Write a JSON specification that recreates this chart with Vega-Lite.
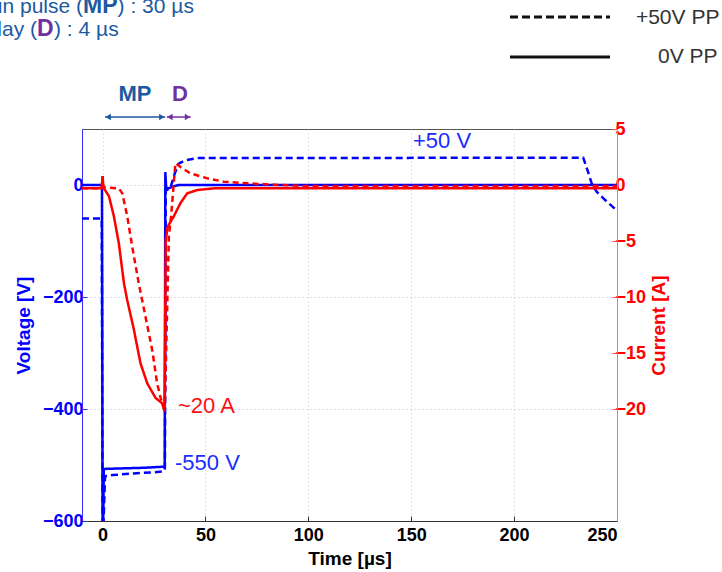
{
  "$schema": "https://vega.github.io/schema/vega-lite/v6.json",
  "width": 535,
  "height": 392,
  "autosize": {"type": "none"},
  "padding": {"left": 82, "top": 129, "right": 105, "bottom": 51},
  "background": "white",
  "config": {
    "view": {"stroke": "#555555", "strokeWidth": 1},
    "font": "Liberation Sans",
    "axis": {
      "labelFont": "Liberation Sans",
      "labelFontSize": 18,
      "labelFontWeight": "bold",
      "titleFont": "Liberation Sans",
      "titleFontSize": 19,
      "titleFontWeight": "bold"
    }
  },
  "datasets": {
    "volt": [
      {"t": -10, "v": 0, "s": "0V PP"}, {"t": -0.3, "v": 0, "s": "0V PP"}, {"t": 0, "v": -600, "s": "0V PP"},
      {"t": 0.3, "v": -600, "s": "0V PP"}, {"t": 0.6, "v": -507, "s": "0V PP"}, {"t": 10, "v": -506, "s": "0V PP"},
      {"t": 20, "v": -505, "s": "0V PP"}, {"t": 29.9, "v": -503, "s": "0V PP"}, {"t": 30.2, "v": -503, "s": "0V PP"},
      {"t": 30.5, "v": 23, "s": "0V PP"}, {"t": 30.9, "v": -5, "s": "0V PP"}, {"t": 32, "v": -6, "s": "0V PP"},
      {"t": 34, "v": -3, "s": "0V PP"}, {"t": 37, "v": 0, "s": "0V PP"}, {"t": 250, "v": 0, "s": "0V PP"},
      {"t": -10, "v": -60, "s": "+50V PP"}, {"t": -0.4, "v": -60, "s": "+50V PP"}, {"t": 0, "v": -600, "s": "+50V PP"},
      {"t": 0.5, "v": -600, "s": "+50V PP"}, {"t": 1.2, "v": -520, "s": "+50V PP"}, {"t": 5, "v": -518, "s": "+50V PP"},
      {"t": 15, "v": -515, "s": "+50V PP"}, {"t": 25, "v": -513, "s": "+50V PP"}, {"t": 29.9, "v": -511, "s": "+50V PP"},
      {"t": 30.3, "v": -505, "s": "+50V PP"}, {"t": 30.7, "v": -10, "s": "+50V PP"}, {"t": 33, "v": -5, "s": "+50V PP"},
      {"t": 35, "v": 20, "s": "+50V PP"}, {"t": 37, "v": 38, "s": "+50V PP"}, {"t": 40, "v": 44, "s": "+50V PP"},
      {"t": 46, "v": 48, "s": "+50V PP"}, {"t": 233.6, "v": 48.8, "s": "+50V PP"}, {"t": 235.6, "v": 27, "s": "+50V PP"},
      {"t": 237.7, "v": 3, "s": "+50V PP"}, {"t": 240.1, "v": -12, "s": "+50V PP"}, {"t": 243.4, "v": -24, "s": "+50V PP"},
      {"t": 248.2, "v": -40, "s": "+50V PP"}, {"t": 250, "v": -45, "s": "+50V PP"}
    ],
    "curr": [
      {"t": -10, "i": -0.3, "s": "0V PP"}, {"t": -0.4, "i": -0.3, "s": "0V PP"}, {"t": 0, "i": 0.8, "s": "0V PP"},
      {"t": 0.4, "i": -0.2, "s": "0V PP"}, {"t": 0.65, "i": -0.3, "s": "0V PP"}, {"t": 3.1, "i": -1.0, "s": "0V PP"},
      {"t": 5.5, "i": -2.8, "s": "0V PP"}, {"t": 7.9, "i": -5.2, "s": "0V PP"}, {"t": 10.4, "i": -8.8, "s": "0V PP"},
      {"t": 12, "i": -10.3, "s": "0V PP"}, {"t": 15.2, "i": -12.9, "s": "0V PP"}, {"t": 18.4, "i": -15.9, "s": "0V PP"},
      {"t": 21.7, "i": -17.7, "s": "0V PP"}, {"t": 25.7, "i": -19, "s": "0V PP"}, {"t": 29, "i": -19.5, "s": "0V PP"},
      {"t": 30.1, "i": -20.2, "s": "0V PP"}, {"t": 30.7, "i": -4.9, "s": "0V PP"}, {"t": 31.7, "i": -3.7, "s": "0V PP"},
      {"t": 34.6, "i": -2.8, "s": "0V PP"}, {"t": 37.9, "i": -1.6, "s": "0V PP"}, {"t": 41.1, "i": -0.75, "s": "0V PP"},
      {"t": 46, "i": -0.45, "s": "0V PP"}, {"t": 54, "i": -0.3, "s": "0V PP"}, {"t": 250, "i": -0.3, "s": "0V PP"},
      {"t": -10, "i": -0.3, "s": "+50V PP"}, {"t": -0.4, "i": -0.3, "s": "+50V PP"}, {"t": 0, "i": 0.8, "s": "+50V PP"},
      {"t": 0.4, "i": -0.2, "s": "+50V PP"}, {"t": 7.9, "i": -0.3, "s": "+50V PP"}, {"t": 9.6, "i": -0.75, "s": "+50V PP"},
      {"t": 12, "i": -2.8, "s": "+50V PP"}, {"t": 14.4, "i": -5.5, "s": "+50V PP"}, {"t": 17.6, "i": -8.8, "s": "+50V PP"},
      {"t": 20.9, "i": -11.8, "s": "+50V PP"}, {"t": 24.1, "i": -14.7, "s": "+50V PP"}, {"t": 26.5, "i": -17.7, "s": "+50V PP"},
      {"t": 28.2, "i": -19, "s": "+50V PP"}, {"t": 29.8, "i": -19.9, "s": "+50V PP"}, {"t": 30.3, "i": -19.5, "s": "+50V PP"},
      {"t": 32.2, "i": -4.6, "s": "+50V PP"}, {"t": 33.3, "i": -2.8, "s": "+50V PP"}, {"t": 34.6, "i": 0.15, "s": "+50V PP"},
      {"t": 35.4, "i": 1.94, "s": "+50V PP"}, {"t": 37.9, "i": 1.6, "s": "+50V PP"}, {"t": 42.7, "i": 1.04, "s": "+50V PP"},
      {"t": 50.8, "i": 0.6, "s": "+50V PP"}, {"t": 58.9, "i": 0.3, "s": "+50V PP"}, {"t": 70.2, "i": 0.15, "s": "+50V PP"},
      {"t": 86.4, "i": 0, "s": "+50V PP"}, {"t": 100, "i": -0.1, "s": "+50V PP"}, {"t": 250, "i": -0.1, "s": "+50V PP"}
    ]
  },
  "layer": [
    {
      "layer": [
        {
          "data": {"name": "volt"},
          "mark": {"type": "line", "strokeWidth": 2.5, "color": "#0000ff", "clip": true},
          "encoding": {
            "x": {
              "field": "t", "type": "quantitative",
              "scale": {"domain": [-10, 250], "nice": false, "zero": false},
              "axis": {
                "title": "Time [µs]", "values": [0, 50, 100, 150, 200, 250],
                "domainColor": "#333333", "tickColor": "#333333", "tickSize": -5,
                "labelColor": "#000000", "titleColor": "#000000",
                "labelPadding": 10, "titlePadding": 5,
                "grid": true, "gridColor": "#c4c4c4", "gridDash": [1, 3]
              }
            },
            "y": {
              "field": "v", "type": "quantitative",
              "scale": {"domain": [-600, 100], "nice": false, "zero": false},
              "axis": {
                "title": "Voltage [V]", "orient": "left", "values": [-600, -400, -200, 0],
                "domainColor": "#3030ff", "tickColor": "#3030ff", "tickSize": -5,
                "labelColor": "#0000ff", "titleColor": "#0000ff",
                "labelPadding": 4, "titlePadding": 9,
                "grid": true, "gridColor": "#b4b8e0", "gridDash": [1, 3]
              }
            },
            "strokeDash": {
              "field": "s", "type": "nominal",
              "scale": {"domain": ["0V PP", "+50V PP"], "range": [[1, 0], [7, 4]]},
              "legend": null
            }
          }
        },
        {
          "data": {"values": [
            {"t": 198.0, "t2": 246.6, "v": 300}
          ]},
          "mark": {"type": "rule", "color": "#111111", "strokeWidth": 3, "strokeDash": [8, 4]},
          "encoding": {
            "x": {"field": "t", "type": "quantitative"},
            "x2": {"field": "t2"},
            "y": {"field": "v", "type": "quantitative"}
          }
        },
        {
          "data": {"values": [
            {"t": 198.0, "t2": 246.6, "v": 228.6}
          ]},
          "mark": {"type": "rule", "color": "#111111", "strokeWidth": 3},
          "encoding": {
            "x": {"field": "t", "type": "quantitative"},
            "x2": {"field": "t2"},
            "y": {"field": "v", "type": "quantitative"}
          }
        },
        {
          "data": {"values": [
            {"t": 259.2, "v": 298, "label": "+50V PP"},
            {"t": 269.9, "v": 228.6, "label": "0V PP"}
          ]},
          "mark": {"type": "text", "align": "left", "baseline": "middle", "fontSize": 21, "color": "#333333"},
          "encoding": {
            "x": {"field": "t", "type": "quantitative"},
            "y": {"field": "v", "type": "quantitative"},
            "text": {"field": "label"}
          }
        },
        {
          "data": {"values": [
            {"t": -9.51, "v": 307.1, "label": "Main pulse ("},
            {"t": -31.87, "v": 266.1, "label": "Delay ("}
          ]},
          "mark": {"type": "text", "align": "right", "baseline": "alphabetic", "fontSize": 21, "color": "#1c5aa0"},
          "encoding": {
            "x": {"field": "t", "type": "quantitative"},
            "y": {"field": "v", "type": "quantitative"},
            "text": {"field": "label"}
          }
        },
        {
          "data": {"values": [
            {"t": 7.3, "v": 307.1, "label": ") : 30 µs"},
            {"t": -23.6, "v": 266.1, "label": ") : 4 µs"}
          ]},
          "mark": {"type": "text", "align": "left", "baseline": "alphabetic", "fontSize": 21, "color": "#1c5aa0"},
          "encoding": {
            "x": {"field": "t", "type": "quantitative"},
            "y": {"field": "v", "type": "quantitative"},
            "text": {"field": "label"}
          }
        },
        {
          "data": {"values": [
            {"t": -9.51, "v": 307.1, "label": "MP"}
          ]},
          "mark": {"type": "text", "align": "left", "baseline": "alphabetic", "fontSize": 23, "fontWeight": "bold", "color": "#1c5aa0"},
          "encoding": {
            "x": {"field": "t", "type": "quantitative"},
            "y": {"field": "v", "type": "quantitative"},
            "text": {"field": "label"}
          }
        },
        {
          "data": {"values": [
            {"t": -31.87, "v": 266.1, "label": "D"}
          ]},
          "mark": {"type": "text", "align": "left", "baseline": "alphabetic", "fontSize": 23, "fontWeight": "bold", "color": "#7030a0"},
          "encoding": {
            "x": {"field": "t", "type": "quantitative"},
            "y": {"field": "v", "type": "quantitative"},
            "text": {"field": "label"}
          }
        },
        {
          "data": {"values": [
            {"t": 15.76, "v": 162.5, "label": "MP"}
          ]},
          "mark": {"type": "text", "align": "center", "baseline": "middle", "fontSize": 22, "fontWeight": "bold", "color": "#1c5aa0"},
          "encoding": {
            "x": {"field": "t", "type": "quantitative"},
            "y": {"field": "v", "type": "quantitative"},
            "text": {"field": "label"}
          }
        },
        {
          "data": {"values": [
            {"t": 37.63, "v": 162.5, "label": "D"}
          ]},
          "mark": {"type": "text", "align": "center", "baseline": "middle", "fontSize": 22, "fontWeight": "bold", "color": "#7030a0"},
          "encoding": {
            "x": {"field": "t", "type": "quantitative"},
            "y": {"field": "v", "type": "quantitative"},
            "text": {"field": "label"}
          }
        },
        {
          "data": {"values": [
            {"t": 1.18, "t2": 30.34, "v": 121.4}
          ]},
          "mark": {"type": "rule", "color": "#1c5aa0", "strokeWidth": 1.5},
          "encoding": {
            "x": {"field": "t", "type": "quantitative"},
            "x2": {"field": "t2"},
            "y": {"field": "v", "type": "quantitative"}
          }
        },
        {
          "data": {"values": [
            {"t": 31.16, "t2": 42.83, "v": 121.4}
          ]},
          "mark": {"type": "rule", "color": "#7030a0", "strokeWidth": 1.5},
          "encoding": {
            "x": {"field": "t", "type": "quantitative"},
            "x2": {"field": "t2"},
            "y": {"field": "v", "type": "quantitative"}
          }
        },
        {
          "data": {"values": [{"t": 2.7, "v": 121.4}]},
          "mark": {"type": "point", "shape": "triangle-left", "filled": true, "size": 40, "color": "#1c5aa0", "opacity": 1},
          "encoding": {
            "x": {"field": "t", "type": "quantitative"},
            "y": {"field": "v", "type": "quantitative"}
          }
        },
        {
          "data": {"values": [{"t": 28.8, "v": 121.4}]},
          "mark": {"type": "point", "shape": "triangle-right", "filled": true, "size": 40, "color": "#1c5aa0", "opacity": 1},
          "encoding": {
            "x": {"field": "t", "type": "quantitative"},
            "y": {"field": "v", "type": "quantitative"}
          }
        },
        {
          "data": {"values": [{"t": 32.7, "v": 121.4}]},
          "mark": {"type": "point", "shape": "triangle-left", "filled": true, "size": 40, "color": "#7030a0", "opacity": 1},
          "encoding": {
            "x": {"field": "t", "type": "quantitative"},
            "y": {"field": "v", "type": "quantitative"}
          }
        },
        {
          "data": {"values": [{"t": 41.3, "v": 121.4}]},
          "mark": {"type": "point", "shape": "triangle-right", "filled": true, "size": 40, "color": "#7030a0", "opacity": 1},
          "encoding": {
            "x": {"field": "t", "type": "quantitative"},
            "y": {"field": "v", "type": "quantitative"}
          }
        },
        {
          "data": {"values": [
            {"t": 150.86, "v": 78.6, "label": "+50 V"},
            {"t": 35.2, "v": -496.4, "label": "-550 V"}
          ]},
          "mark": {"type": "text", "align": "left", "baseline": "middle", "fontSize": 22, "color": "#1a2cff"},
          "encoding": {
            "x": {"field": "t", "type": "quantitative"},
            "y": {"field": "v", "type": "quantitative"},
            "text": {"field": "label"}
          }
        },
        {
          "data": {"values": [
            {"t": 36.65, "v": -394.6, "label": "~20 A"}
          ]},
          "mark": {"type": "text", "align": "left", "baseline": "middle", "fontSize": 22, "color": "#ff1010"},
          "encoding": {
            "x": {"field": "t", "type": "quantitative"},
            "y": {"field": "v", "type": "quantitative"},
            "text": {"field": "label"}
          }
        }
      ]
    },
    {
      "data": {"name": "curr"},
      "mark": {"type": "line", "strokeWidth": 2.5, "color": "#ff0000", "clip": true},
      "encoding": {
        "x": {"field": "t", "type": "quantitative", "scale": {"domain": [-10, 250], "nice": false, "zero": false}},
        "y": {
          "field": "i", "type": "quantitative",
          "scale": {"domain": [-30, 5], "nice": false, "zero": false},
          "axis": {
            "title": "Current [A]", "orient": "right", "values": [-20, -15, -10, -5, 0, 5],
            "domainColor": "#e0789a", "tickColor": "#ff5060", "tickSize": -5,
            "labelColor": "#ff0000", "titleColor": "#ff0000",
            "labelPadding": 3, "titlePadding": 4, "titleAngle": 270, "titleBaseline": "top",
            "grid": false
          }
        },
        "strokeDash": {
          "field": "s", "type": "nominal",
          "scale": {"domain": ["0V PP", "+50V PP"], "range": [[1, 0], [6, 4]]},
          "legend": null
        }
      }
    }
  ],
  "resolve": {"scale": {"y": "independent", "strokeDash": "independent"}}
}
